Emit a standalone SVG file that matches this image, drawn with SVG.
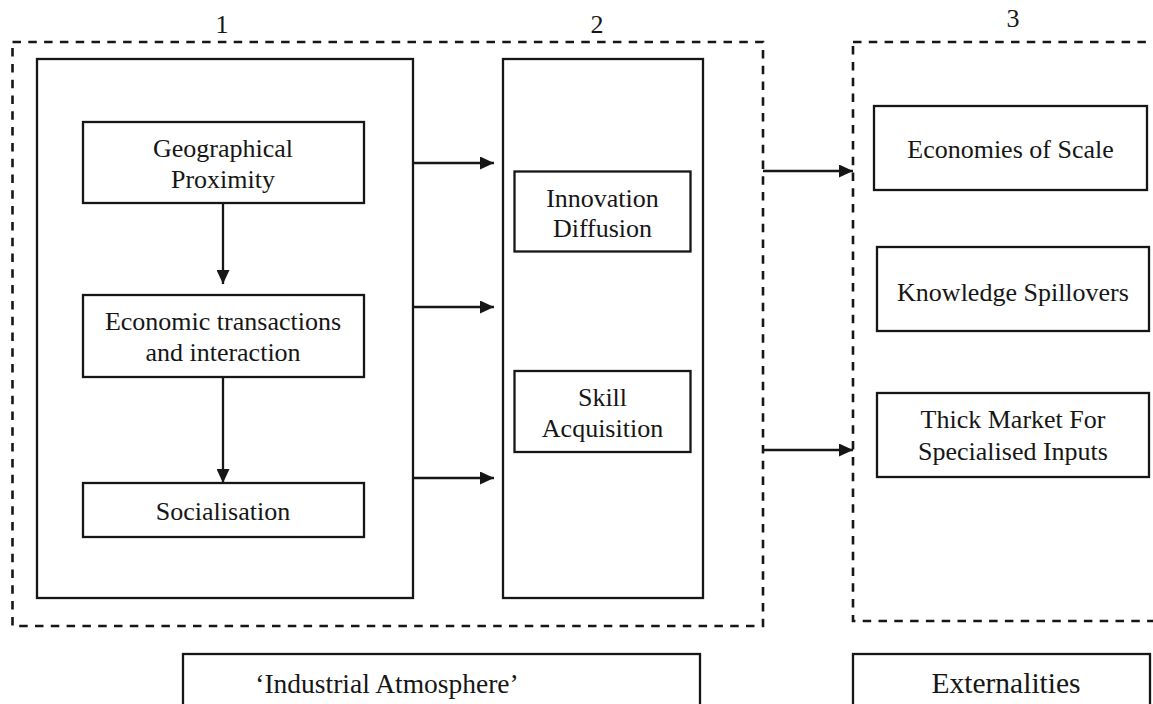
<svg xmlns="http://www.w3.org/2000/svg" width="1153" height="704" viewBox="0 0 1153 704">
<defs>
<style>
.bg{fill:#ffffff}
.box{fill:none;stroke:#161616;stroke-width:2.3}
.dash{fill:none;stroke:#161616;stroke-width:2.6;stroke-dasharray:8.5 7.3}
.lbl{font-family:"Liberation Serif","Times New Roman",serif;font-size:26px;fill:#161616;text-anchor:middle}
.num{font-family:"Liberation Serif","Times New Roman",serif;font-size:26px;fill:#161616;text-anchor:middle}
.conn{fill:none;stroke:#161616;stroke-width:2.3}
</style>
<marker id="arr" viewBox="0 0 14 13" refX="14" refY="6.5" markerWidth="14" markerHeight="13" markerUnits="userSpaceOnUse" orient="auto">
<path d="M0,0 L14,6.5 L0,13 Z" fill="#161616"/>
</marker>
</defs>
<rect class="bg" x="0" y="0" width="1153" height="704"/>

<g id="group1">
<rect class="dash" x="12.5" y="42" width="750.5" height="584"/>
<text class="num" x="222" y="33">1</text>
<text class="num" x="597" y="33">2</text>
</g>

<g id="group3">
<rect class="dash" x="853" y="42" width="320" height="579"/>
<text class="num" x="1013" y="27">3</text>
</g>

<g id="panelA">
<rect class="box" x="37" y="59" width="376" height="539"/>
</g>

<g id="panelB">
<rect class="box" x="503" y="59" width="200" height="539"/>
</g>

<g id="geo">
<rect class="box" x="83" y="122" width="281" height="81"/>
<text class="lbl" x="223" y="157">Geographical</text>
<text class="lbl" x="223" y="188">Proximity</text>
</g>

<g id="econ">
<rect class="box" x="83" y="295" width="281" height="82"/>
<text class="lbl" x="223" y="330">Economic transactions</text>
<text class="lbl" x="223" y="361">and interaction</text>
</g>

<g id="social">
<rect class="box" x="83" y="483" width="281" height="54"/>
<text class="lbl" x="223" y="520">Socialisation</text>
</g>

<g id="innov">
<rect class="box" x="514.5" y="171.5" width="176" height="80"/>
<text class="lbl" x="602.5" y="206.5">Innovation</text>
<text class="lbl" x="602.5" y="237">Diffusion</text>
</g>

<g id="skill">
<rect class="box" x="514.5" y="371" width="176" height="81"/>
<text class="lbl" x="602.5" y="406">Skill</text>
<text class="lbl" x="602.5" y="437">Acquisition</text>
</g>

<g id="scale">
<rect class="box" x="874" y="106" width="273" height="84"/>
<text class="lbl" x="1010.5" y="158">Economies of Scale</text>
</g>

<g id="spill">
<rect class="box" x="877" y="247" width="272" height="84"/>
<text class="lbl" x="1013" y="300.5">Knowledge Spillovers</text>
</g>

<g id="thick">
<rect class="box" x="877" y="393" width="272" height="84"/>
<text class="lbl" x="1013" y="428">Thick Market For</text>
<text class="lbl" x="1013" y="460">Specialised Inputs</text>
</g>

<g id="atmos">
<rect class="box" x="183" y="654" width="517" height="70"/>
<text class="lbl" x="387" y="693" style="font-size:27.5px">&#8216;Industrial Atmosphere&#8217;</text>
</g>

<g id="extern">
<rect class="box" x="853" y="654" width="297" height="70"/>
<text class="lbl" x="1006" y="693" style="font-size:29.5px">Externalities</text>
</g>

<g id="connectors">
<line class="conn" x1="223" y1="203" x2="223" y2="284" marker-end="url(#arr)"/>
<line class="conn" x1="223" y1="377" x2="223" y2="483" marker-end="url(#arr)"/>
<line class="conn" x1="412" y1="163" x2="494" y2="163" marker-end="url(#arr)"/>
<line class="conn" x1="412" y1="307" x2="494" y2="307" marker-end="url(#arr)"/>
<line class="conn" x1="412" y1="478" x2="494" y2="478" marker-end="url(#arr)"/>
<line class="conn" x1="763" y1="171" x2="853" y2="171" marker-end="url(#arr)"/>
<line class="conn" x1="763" y1="450" x2="853" y2="450" marker-end="url(#arr)"/>
</g>
</svg>
